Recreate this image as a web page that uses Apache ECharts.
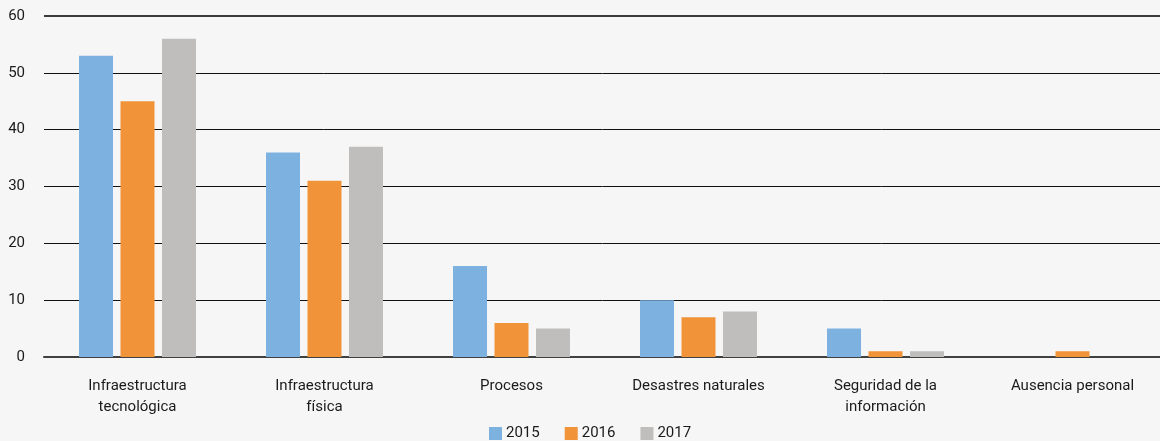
<!DOCTYPE html>
<html>
<head>
<meta charset="utf-8">
<script src="https://cdn.jsdelivr.net/npm/echarts@6/dist/echarts.min.js"></script>
<style>
  html, body { margin: 0; padding: 0; background: #f6f6f6; }
  #chart { width: 1160px; height: 441px; }
</style>
</head>
<body>
<div id="chart"></div>
<script>
const categories = [
  'Infraestructura\ntecnológica',
  'Infraestructura\nfísica',
  'Procesos',
  'Desastres naturales',
  'Seguridad de la\ninformación',
  'Ausencia personal'
];
const years = ['2015', '2016', '2017'];
const values2015 = [53, 36, 16, 10, 5, 0];
const values2016 = [45, 31, 6, 7, 1, 1];
const values2017 = [56, 37, 5, 8, 1, 0];
const colors = ['#7cb1e0', '#f19338', '#bfbebc'];

const chart = echarts.init(document.getElementById('chart'));
const font = 'Roboto, "DejaVu Sans", sans-serif';

const seriesData = [values2015, values2016, values2017];

const option = {
  backgroundColor: '#f6f6f6',
  textStyle: { fontFamily: font },
  grid: { left: 44, top: 16, right: -6, bottom: 84, containLabel: false, outerBoundsMode: 'none' },
  legend: {
    top: 421,
    left: 484,
    itemWidth: 13,
    itemHeight: 13,
    itemGap: 25,
    icon: 'rect',
    textStyle: { fontFamily: font, fontSize: 15, color: '#1a1a1a', padding: [0, 0, 0, -1] },
    data: years
  },
  xAxis: {
    type: 'category',
    data: categories,
    axisLine: { lineStyle: { color: '#404040', width: 2 } },
    axisTick: { show: false },
    axisLabel: {
      color: '#1a1a1a',
      fontSize: 15,
      lineHeight: 21,
      margin: 19,
      interval: 0
    }
  },
  yAxis: {
    type: 'value',
    min: 0,
    max: 60,
    interval: 10,
    axisLine: { show: false },
    axisTick: { show: false },
    axisLabel: { color: '#1a1a1a', fontSize: 15, margin: 19 },
    splitLine: { lineStyle: { color: '#111', width: 1 } }
  },
  series: years.map((y, i) => ({
    name: y,
    type: 'bar',
    data: seriesData[i],
    barWidth: 34,
    barGap: '22%',
    itemStyle: { color: colors[i] },
    markLine: i === 0 ? {
      silent: true,
      symbol: 'none',
      label: { show: false },
      lineStyle: { color: '#3a3a3a', width: 2, type: 'solid' },
      data: [{ yAxis: 60 }]
    } : undefined
  }))
};

chart.setOption(option);
</script>
</body>
</html>
